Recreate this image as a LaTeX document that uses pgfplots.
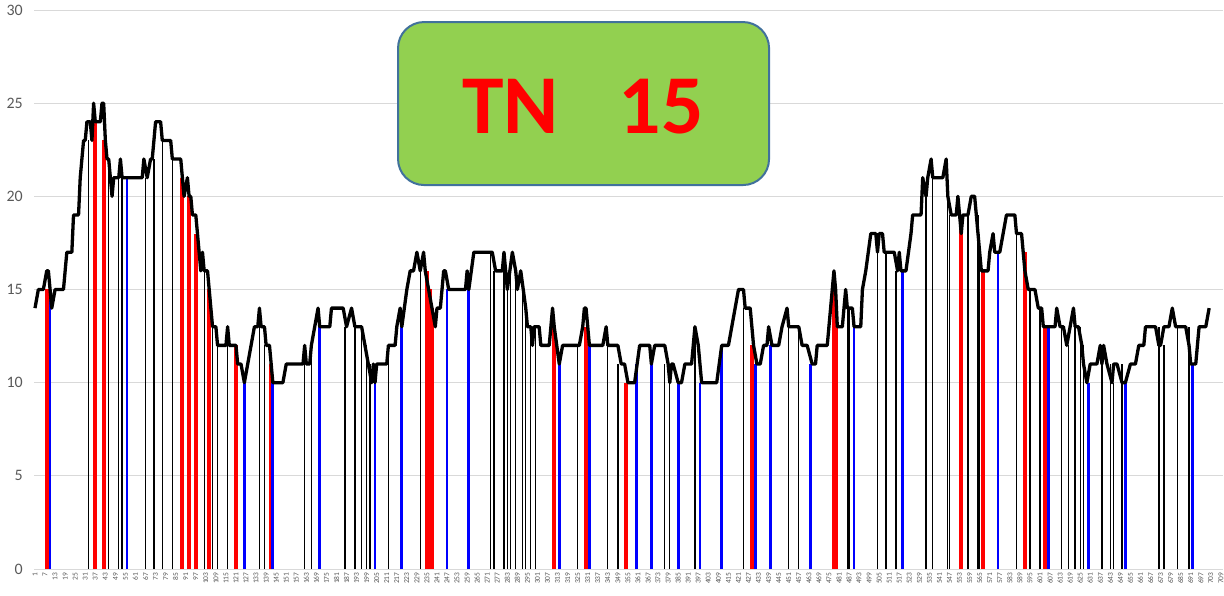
\documentclass[border=0pt]{standalone}
\usepackage{pgfplots}
\pgfplotsset{compat=1.18}
\usepackage{fontspec}
\setmainfont{Carlito}
\definecolor{gridgray}{HTML}{D9D9D9}
\definecolor{labelgray}{HTML}{595959}
\definecolor{boxgreen}{HTML}{92D050}
\definecolor{boxblue}{HTML}{41719C}
\definecolor{barred}{HTML}{FF0000}
\definecolor{barblue}{HTML}{0000FF}
\begin{document}
\begin{tikzpicture}
\begin{axis}[
  at={(0,0)}, anchor=south west,
  scale only axis, width=1188.2bp, height=559bp,
  xmin=0.6, xmax=710, ymin=0, ymax=30,
  axis line style={draw=none},
  ytick={0,5,...,30},
  ymajorgrids, major grid style={color=gridgray, line width=0.9bp},
  xtick={1,7,...,709},
  tick style={draw=none},
  /pgf/number format/assume math mode=true,
  yticklabel style={font=\fontsize{16}{16}\selectfont, color=labelgray, xshift=-8bp},
  xticklabel style={font=\fontsize{7.5}{7.5}\selectfont, color=labelgray, rotate=90, anchor=east},
  clip=false,
]
% black thin bars
\addplot[ycomb, black, line width=1.3bp, mark=none] coordinates {
(33,23) (45,22) (51,21) (53,21) (67,21) (72,22) (77,23) (83,22) (102,16) (107,13) (110,12) (116,12)
(135,13) (138,12) (162,11) (166,12) (186,13) (192,13) (196,13) (199,12) (201,11) (212,12) (231,16)
(273,17) (275,16) (281,16) (283,15) (285,16) (288,16) (292,15) (294,14) (297,13) (300,13) (325,12)
(343,12) (349,11) (377,11) (380,10) (395,13) (424,14) (451,13) (457,13) (486,14) (487,14) (504,17)
(509,17) (515,16) (533,20) (537,21) (546,20) (547,19) (558,19) (564,19) (565,18) (587,18) (595,15)
(601,14) (614,13) (618,12) (622,13) (625,13) (627,12) (638,12) (643,11) (645,10) (650,11) (672,13)
(675,12) (683,13) (690,13)
};
% red bars
\addplot[ycomb, barred, line width=3.8bp, mark=none] coordinates {
(8,15) (37,24) (42,23) (89,21) (93,20) (97,18) (105,15) (121,12) (142,11)
(235,16) (236,15) (237,15) (238,14) (311,13) (330,13) (354,10) (429,12)
(478,15) (479,14) (554,19) (567,16) (592,17) (604,13)
};
% blue bars
\addplot[ycomb, barblue, line width=2.7bp, mark=none] coordinates {
(10,15) (56,21) (126,10) (143,10) (171,13) (204,10) (220,13) (247,15) (260,15) (314,11)
(332,12) (360,11) (369,11) (385,10) (398,10) (411,12) (431,11) (440,12) (464,11) (490,13)
(519,16) (576,17) (606,13) (630,10) (652,10) (692,11)
};
% black line
\addplot[black, line width=3.3bp, line join=round, mark=none] coordinates {
(1,14) (3,15) (6,15) (8,16) (9,16) (11,14) (13,15) (18,15) (19,16) (20,17) (23,17) (24,19) (27,19)
(28,21) (29,22) (30,23) (31,23) (32,24) (34,24) (35,23) (36,25) (37,24) (40,24) (41,25) (42,25)
(43,23) (44,22) (45,22) (47,20) (48,21) (51,21) (52,22) (53,21) (65,21) (66,22) (68,21) (70,22)
(71,22) (73,24) (76,24) (77,23) (82,23) (83,22) (88,22) (90,20) (92,21) (93,20) (94,20) (95,19)
(97,19) (98,18) (99,17) (100,16) (101,17) (102,16) (104,16) (105,15) (106,14) (107,13) (109,13)
(110,12) (115,12) (116,13) (117,12) (121,12) (122,11) (124,11) (126,10) (128,11) (130,12) (132,13)
(134,13) (135,14) (136,13) (138,13) (139,12) (141,12) (142,11) (143,10) (149,10) (151,11) (161,11)
(162,12) (163,11) (165,11) (166,12) (168,13) (170,14) (171,13) (177,13) (178,14) (185,14) (187,13)
(190,14) (192,13) (196,13) (198,12) (200,11) (202,10) (203,11) (204,10) (205,11) (211,11) (212,12)
(216,12) (217,13) (219,14) (220,13) (223,15) (225,16) (227,16) (229,17) (231,16) (233,17) (234,16)
(240,13) (241,14) (243,14) (245,16) (246,16) (248,15) (258,15) (259,16) (260,15) (263,17) (274,17)
(276,16) (280,16) (281,17) (283,15) (286,17) (288,16) (289,15) (291,16) (294,14) (295,13) (297,13)
(298,12) (299,13) (302,13) (303,12) (308,12) (310,14) (311,13) (314,11) (316,12) (326,12) (328,13)
(329,14) (330,14) (332,12) (340,12) (342,13) (343,12) (349,12) (351,11) (353,11) (355,10) (359,10)
(362,12) (368,12) (369,11) (371,12) (377,12) (379,11) (380,10) (381,11) (382,11) (385,10) (387,10)
(389,11) (393,11) (395,13) (397,12) (399,10) (408,10) (411,12) (415,12) (417,13) (419,14) (421,15)
(424,15) (425,14) (428,14) (430,12) (432,11) (434,11) (436,12) (438,12) (439,13) (441,12) (445,12)
(447,13) (450,14) (451,13) (457,13) (459,12) (462,12) (465,11) (467,11) (468,12) (474,12) (476,14)
(478,16) (479,15) (480,13) (483,13) (485,15) (486,14) (489,14) (490,13) (494,13) (495,15) (497,16)
(500,18) (503,18) (504,17) (505,18) (507,18) (508,17) (514,17) (516,16) (517,17) (518,16) (521,16)
(524,18) (525,19) (530,19) (531,21) (533,20) (534,21) (536,22) (537,21) (543,21) (545,22) (546,20)
(548,19) (551,19) (552,20) (554,18) (555,19) (558,19) (560,20) (562,20) (564,18) (565,17) (566,16)
(570,16) (571,17) (573,18) (574,17) (577,17) (579,18) (581,19) (586,19) (587,18) (590,18) (592,16)
(594,15) (598,15) (600,14) (602,14) (603,13) (610,13) (611,14) (613,13) (615,13) (617,12) (619,13)
(621,14) (622,13) (624,13) (626,12) (627,11) (629,10) (631,11) (635,11) (637,12) (638,11) (639,12)
(641,11) (644,10) (645,11) (647,11) (650,10) (652,10) (655,11) (658,11) (660,12) (663,12) (664,13)
(670,13) (672,12) (673,12) (675,13) (678,13) (680,14) (682,13) (688,13) (690,12) (691,11) (694,11)
(696,13) (700,13) (702,14)
};
% title box
\node[draw=boxblue, fill=boxgreen, line width=2bp, rounded corners=26bp,
      minimum width=371bp, minimum height=163bp, inner sep=0pt]
      at (axis cs:328.5,24.98) {};
\node[inner sep=0pt, text=barred, font=\fontsize{84}{84}\selectfont\bfseries]
      at (axis cs:328.2,24.84) {TN\hspace*{60bp}15};
\end{axis}
\pgfresetboundingbox
\path[use as bounding box] (-34.33bp,-27bp) rectangle (1189.67bp,569bp);
\end{tikzpicture}
\end{document}
